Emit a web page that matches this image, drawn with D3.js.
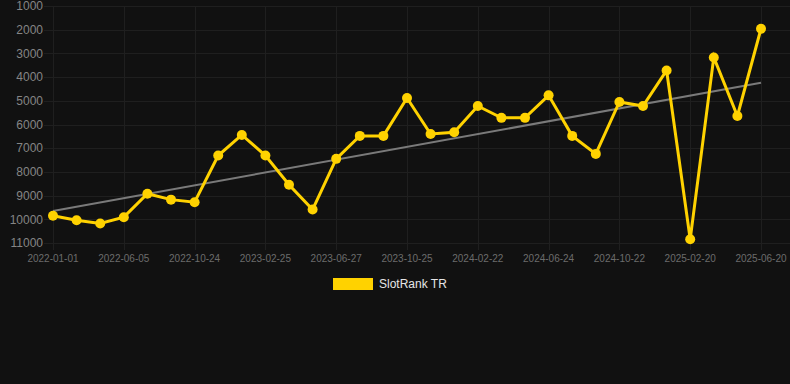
<!DOCTYPE html>
<html>
<head>
<meta charset="utf-8">
<script src="https://cdn.jsdelivr.net/npm/d3@7"></script>
<style>
  html, body { margin: 0; padding: 0; background: #111111; }
  svg { display: block; }
</style>
</head>
<body>
<div id="chart"></div>
<script>
// categories (only every third one gets a label on the axis)
var dates = ["2022-01-01", "2022-02-22", "2022-04-14", "2022-06-05", "2022-07-22", "2022-09-07",
  "2022-10-24", "2022-12-04", "2023-01-14", "2023-02-25", "2023-04-05", "2023-05-16",
  "2023-06-27", "2023-08-05", "2023-09-15", "2023-10-25", "2023-12-03", "2024-01-13",
  "2024-02-22", "2024-04-03", "2024-05-14", "2024-06-24", "2024-08-02", "2024-09-12",
  "2024-10-22", "2024-12-01", "2025-01-11", "2025-02-20", "2025-04-01", "2025-05-11",
  "2025-06-20"];

// SlotRank TR rank values (lower is better, axis is reversed)
var ranks = [9850, 10040, 10180, 9910, 8920, 9170, 9280, 7310, 6440, 7310, 8540,
  9590, 7450, 6480, 6480, 4880, 6400, 6330, 5220, 5720, 5720, 4770, 6480, 7240,
  5050, 5220, 3720, 10840, 3170, 5640, 1960];

var yTicks = [1000, 2000, 3000, 4000, 5000, 6000, 7000, 8000, 9000, 10000, 11000];

var W = 790, H = 384;
var padL = 53, padR = 761, padT = 6, padB = 243;

var svg = d3.select("#chart").append("svg")
    .attr("width", W)
    .attr("height", H);

var x = d3.scalePoint()
    .domain(dates)
    .range([padL, padR]);

var y = d3.scaleLinear()
    .domain([1000, 11000])
    .range([padT, padB]);

// horizontal grid + y labels
svg.append("g")
    .selectAll("line")
    .data(yTicks)
    .enter().append("line")
    .attr("x1", padL - 9)
    .attr("x2", W)
    .attr("y1", function (d) { return Math.round(y(d)) + 0.5; })
    .attr("y2", function (d) { return Math.round(y(d)) + 0.5; })
    .attr("stroke", "#1f1f1f")
    .attr("stroke-width", 1);

svg.append("g")
    .selectAll("text")
    .data(yTicks)
    .enter().append("text")
    .attr("x", 43)
    .attr("y", function (d) { return y(d); })
    .attr("dy", "0.35em")
    .attr("text-anchor", "end")
    .attr("fill", "#858585")
    .style("font", "12px Arial, 'Liberation Sans', sans-serif")
    .text(function (d) { return d; });

// vertical grid on the labelled dates
var shown = dates.filter(function (d, i) { return i % 3 === 0; });

svg.append("g")
    .selectAll("line")
    .data(shown)
    .enter().append("line")
    .attr("x1", function (d) { return Math.round(x(d)) + 0.5; })
    .attr("x2", function (d) { return Math.round(x(d)) + 0.5; })
    .attr("y1", padT)
    .attr("y2", padB + 7)
    .attr("stroke", "#1f1f1f")
    .attr("stroke-width", 1);

svg.append("g")
    .selectAll("text")
    .data(shown)
    .enter().append("text")
    .attr("x", function (d) { return x(d); })
    .attr("y", 262)
    .attr("text-anchor", "middle")
    .attr("fill", "#6c6c6c")
    .style("font", "10px Arial, 'Liberation Sans', sans-serif")
    .text(function (d) { return d; });

// trend line: least squares fit over the series
var n = ranks.length;
var mx = d3.mean(ranks, function (d, i) { return i; });
var my = d3.mean(ranks);
var sxy = d3.sum(ranks, function (d, i) { return (i - mx) * (d - my); });
var sxx = d3.sum(ranks, function (d, i) { return (i - mx) * (i - mx); });
var slope = sxy / sxx, icpt = my - slope * mx;

svg.append("line")
    .attr("x1", x(dates[0]))
    .attr("y1", y(icpt))
    .attr("x2", x(dates[n - 1]))
    .attr("y2", y(icpt + slope * (n - 1)))
    .attr("stroke", "#7a7a7a")
    .attr("stroke-width", 2);

// main series
var line = d3.line()
    .x(function (d, i) { return x(dates[i]); })
    .y(function (d) { return y(d); });

svg.append("path")
    .datum(ranks)
    .attr("d", line)
    .attr("fill", "none")
    .attr("stroke", "#ffd200")
    .attr("stroke-width", 3)
    .attr("stroke-linejoin", "miter");

svg.append("g")
    .selectAll("circle")
    .data(ranks)
    .enter().append("circle")
    .attr("cx", function (d, i) { return x(dates[i]); })
    .attr("cy", function (d) { return y(d); })
    .attr("r", 5)
    .attr("fill", "#ffd200");

// legend
svg.append("rect")
    .attr("x", 333)
    .attr("y", 278)
    .attr("width", 40)
    .attr("height", 12)
    .attr("fill", "#ffd200");

svg.append("text")
    .attr("x", 379)
    .attr("y", 284)
    .attr("dy", "0.35em")
    .attr("fill", "#e6e6e6")
    .style("font", "12px Arial, 'Liberation Sans', sans-serif")
    .text("SlotRank TR");
</script>
</body>
</html>
